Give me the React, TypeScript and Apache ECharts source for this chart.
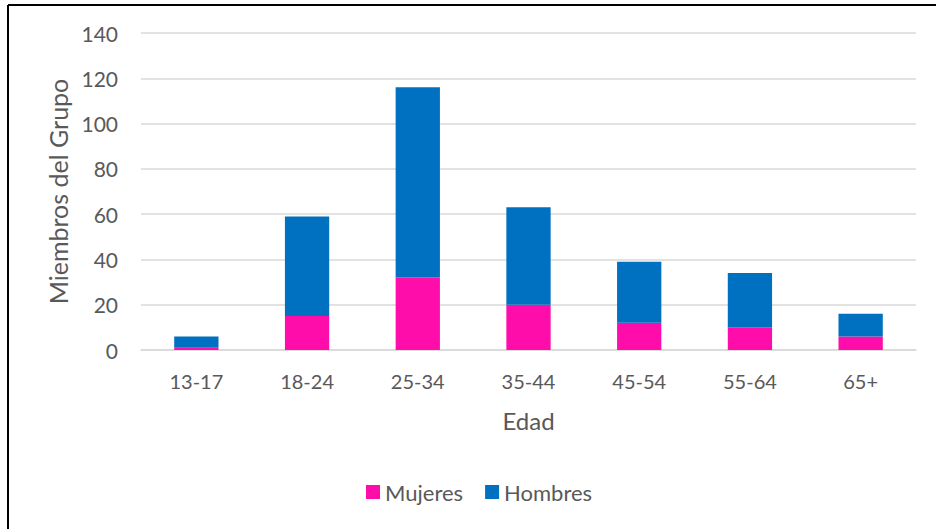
import React, { useEffect, useRef } from "react";
import * as echarts from "echarts";

const categories = ["13-17", "18-24", "25-34", "35-44", "45-54", "55-64", "65+"];
const mujeres = [1, 15, 32, 20, 12, 10, 6];
const hombres = [5, 44, 84, 43, 27, 24, 10];
const yTicks = [0, 20, 40, 60, 80, 100, 120, 140];

const FONT = "Lato, 'Open Sans', sans-serif";
const TEXT = "#595959";

export default function App() {
  const ref = useRef<HTMLDivElement>(null);
  useEffect(() => {
    const chart = echarts.init(ref.current!, null, { renderer: "svg" });
    chart.setOption({
      animation: false,
      backgroundColor: "#ffffff",
      textStyle: { fontFamily: FONT },
      graphic: [
        { type: "line", shape: { x1: 8, y1: 5, x2: 936, y2: 5 }, style: { stroke: "#000", lineWidth: 2 } },
        { type: "line", shape: { x1: 8, y1: 5, x2: 8, y2: 529 }, style: { stroke: "#000", lineWidth: 2 } },
      ],
      grid: { left: 141, right: 20, top: 33, bottom: 179, containLabel: false },
      legend: {
        data: ["Mujeres", "Hombres"],
        left: 361,
        top: 476,
        itemWidth: 14,
        itemHeight: 14,
        itemGap: 22,
        icon: "rect",
        textStyle: { color: TEXT, fontSize: 22, fontFamily: FONT },
      },
      xAxis: {
        type: "category",
        data: categories,
        name: "Edad",
        nameLocation: "middle",
        nameGap: 58,
        nameTextStyle: { color: TEXT, fontSize: 24, fontFamily: FONT },
        axisLine: { lineStyle: { color: "#D9D9D9", width: 1.5 } },
        axisTick: { show: false },
        axisLabel: { color: TEXT, fontSize: 20, margin: 21, fontFamily: FONT },
      },
      yAxis: {
        type: "value",
        min: yTicks[0],
        max: yTicks[yTicks.length - 1],
        interval: 20,
        name: "Miembros del Grupo",
        nameLocation: "middle",
        nameGap: 69,
        nameTextStyle: { color: TEXT, fontSize: 25, fontFamily: FONT },
        axisLine: { show: false },
        axisTick: { show: false },
        axisLabel: { color: TEXT, fontSize: 21, margin: 23, fontFamily: FONT },
        splitLine: { lineStyle: { color: "#D9D9D9", width: 1.5 } },
      },
      series: [
        {
          name: "Mujeres",
          type: "bar",
          stack: "total",
          data: mujeres,
          barWidth: "40%",
          itemStyle: { color: "#FF0DAA" },
        },
        {
          name: "Hombres",
          type: "bar",
          stack: "total",
          data: hombres,
          barWidth: "40%",
          itemStyle: { color: "#0070C0" },
        },
      ],
    });
    return () => chart.dispose();
  }, []);
  return (
    <div style={{ position: "fixed", left: 0, top: 0, width: 936, height: 529 }}>
      <div ref={ref} style={{ width: 936, height: 529 }} />
    </div>
  );
}
